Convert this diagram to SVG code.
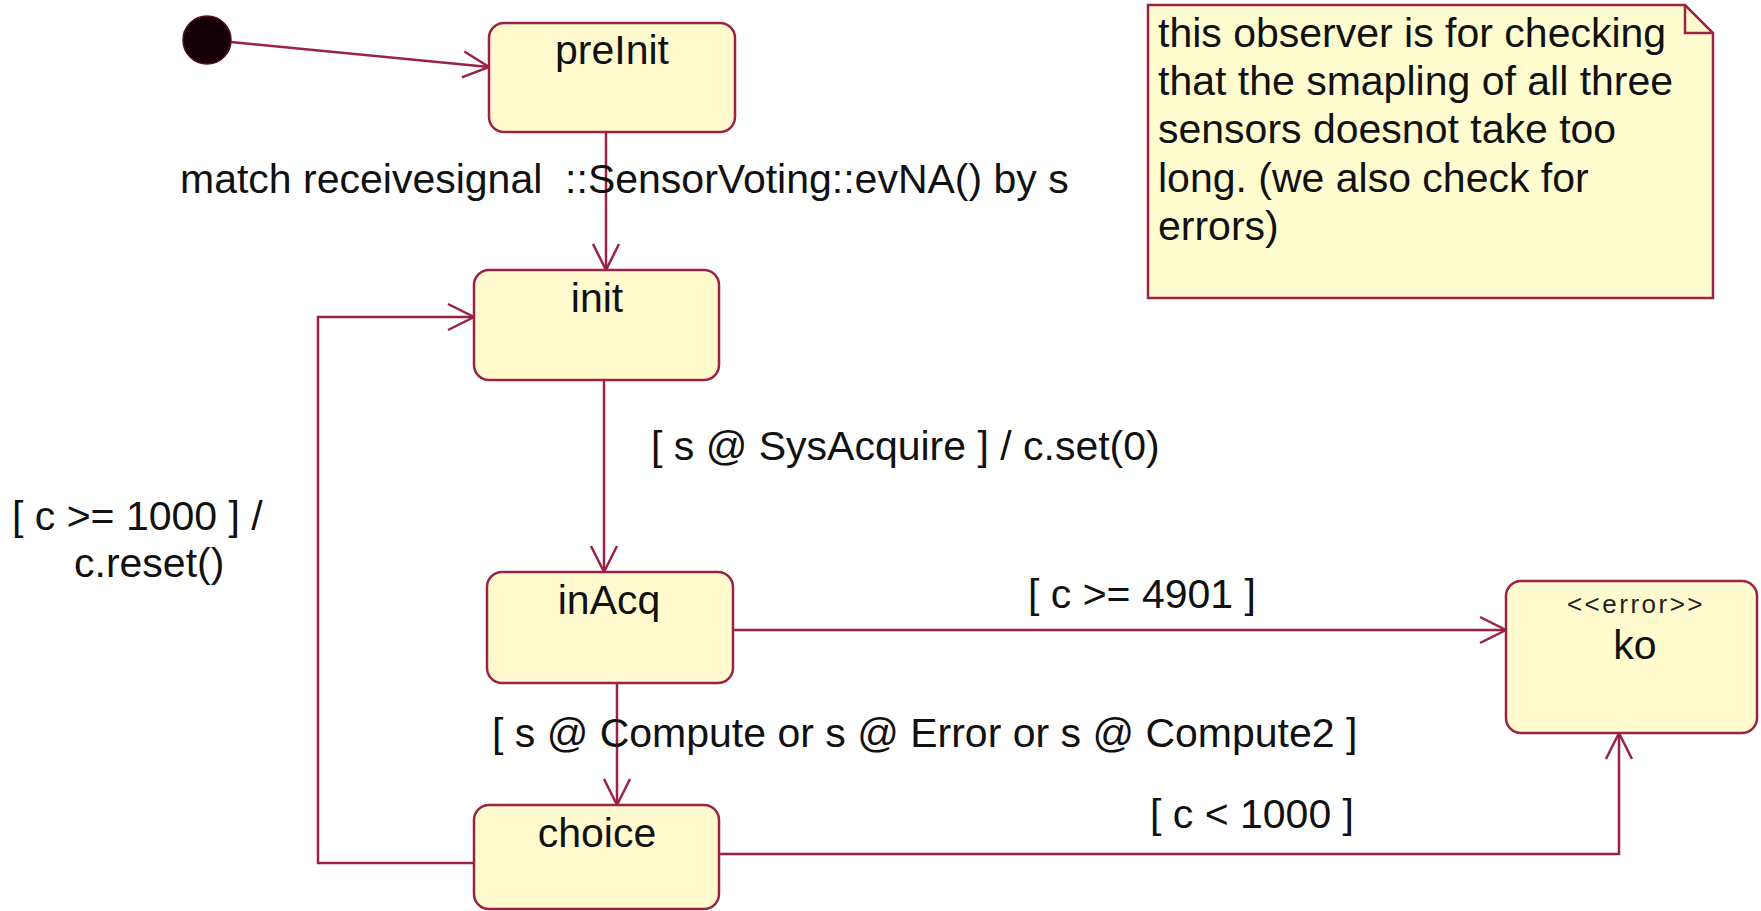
<svg xmlns="http://www.w3.org/2000/svg" width="1761" height="911" viewBox="0 0 1761 911">
  <defs>
    <style>
      .state { fill: #FFFBCF; stroke: #9A2244; stroke-width: 2.5; }
      .note { fill: #FFFDCF; stroke: #9A2244; stroke-width: 2.5; }
      .edge { fill: none; stroke: #9A2244; stroke-width: 2.5; }
      .label { font-family: "Liberation Sans", Arial, sans-serif; font-size: 41px; fill: #111; }
      .name { font-family: "Liberation Sans", Arial, sans-serif; font-size: 41px; fill: #111; text-anchor: middle; }
      .stereo { font-family: "Liberation Sans", Arial, sans-serif; font-size: 26px; letter-spacing: 2.5px; fill: #222; text-anchor: middle; }
    </style>
    <marker id="open" markerUnits="userSpaceOnUse" markerWidth="40" markerHeight="40" viewBox="-30 -20 40 40" refX="0" refY="0" orient="auto" overflow="visible">
      <path d="M -26 -13 L 0 0 L -26 13" fill="none" stroke="#9A2244" stroke-width="2.5"/>
    </marker>
  </defs>

  <rect width="1761" height="911" fill="#FFFFFF"/>

  <!-- transitions -->
  <g id="connectors">
    <line class="edge" x1="231" y1="42" x2="489" y2="67" marker-end="url(#open)"/>
    <line class="edge" x1="606" y1="132" x2="606" y2="270" marker-end="url(#open)"/>
    <line class="edge" x1="604" y1="380" x2="604" y2="572" marker-end="url(#open)"/>
    <line class="edge" x1="617" y1="683" x2="617" y2="805" marker-end="url(#open)"/>
    <line class="edge" x1="733" y1="630" x2="1506" y2="630" marker-end="url(#open)"/>
    <polyline class="edge" points="719,854 1619,854 1619,733" marker-end="url(#open)"/>
    <polyline class="edge" points="474,863 318,863 318,317 474,317" marker-end="url(#open)"/>

    <text class="label" x="180" y="193" xml:space="preserve">match receivesignal  ::SensorVoting::evNA() by s</text>
    <text class="label" x="651" y="460">[ s @ SysAcquire ] / c.set(0)</text>
    <text class="label" x="12" y="530">[ c &gt;= 1000 ] /</text>
    <text class="label" x="74" y="577">c.reset()</text>
    <text class="label" x="1028" y="608">[ c &gt;= 4901 ]</text>
    <text class="label" x="492" y="747">[ s @ Compute or s @ Error or s @ Compute2 ]</text>
    <text class="label" x="1150" y="828">[ c &lt; 1000 ]</text>
  </g>

  <g id="initial">
    <circle cx="207" cy="40" r="24" fill="#140006" stroke="#5A0A20" stroke-width="1.5"/>
  </g>

  <g id="preInit">
    <rect class="state" x="489" y="23" width="246" height="109" rx="15" ry="15"/>
    <text class="name" x="612" y="64">preInit</text>
  </g>

  <g id="init">
    <rect class="state" x="474" y="270" width="245" height="110" rx="15" ry="15"/>
    <text class="name" x="597" y="312">init</text>
  </g>

  <g id="inAcq">
    <rect class="state" x="487" y="572" width="246" height="111" rx="15" ry="15"/>
    <text class="name" x="609" y="614">inAcq</text>
  </g>

  <g id="choice">
    <rect class="state" x="474" y="805" width="245" height="104" rx="15" ry="15"/>
    <text class="name" x="597" y="847">choice</text>
  </g>

  <g id="ko">
    <rect class="state" x="1506" y="581" width="251" height="152" rx="15" ry="15"/>
    <text class="stereo" x="1636" y="613">&lt;&lt;error&gt;&gt;</text>
    <text class="name" x="1635" y="659">ko</text>
  </g>

  <g id="note">
    <path class="note" d="M 1148 5 L 1685 5 L 1713 33 L 1713 298 L 1148 298 Z"/>
    <path class="edge" d="M 1685 5 L 1685 33 L 1713 33"/>
    <text class="label" x="1158" y="47">this observer is for checking</text>
    <text class="label" x="1158" y="95">that the smapling of all three</text>
    <text class="label" x="1158" y="143">sensors doesnot take too</text>
    <text class="label" x="1158" y="192">long. (we also check for</text>
    <text class="label" x="1158" y="240">errors)</text>
  </g>
</svg>
